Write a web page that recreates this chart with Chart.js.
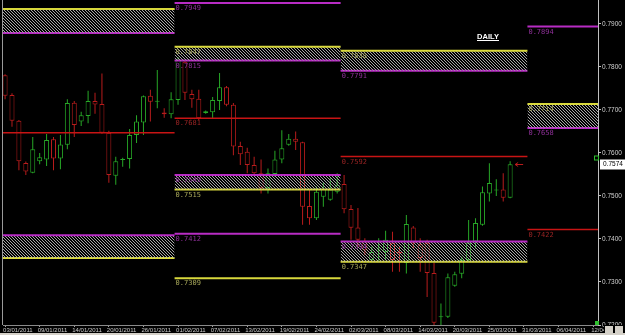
<!DOCTYPE html>
<html>
<head>
<meta charset="utf-8">
<script src="https://cdn.jsdelivr.net/npm/chart.js@4.4.0/dist/chart.umd.min.js"></script>
<style>
  html, body { margin: 0; padding: 0; background: #000; }
</style>
</head>
<body>
<canvas id="chart" width="625" height="335"></canvas>
<script>
// daily candles, bar 0 = 03/01/2011 (sunday bars included)
const opens = [0.7781, 0.7735, 0.7675, 0.7577, 0.7554, 0.7581, 0.7585, 0.7632, 0.7587, 0.7619,
  0.7717, 0.7673, 0.7686, 0.7721, 0.7714, 0.7647, 0.7547, 0.7584, 0.7586, 0.7642,
  0.7671, 0.7733, 0.7719, 0.7694, 0.7690, 0.7723, 0.7812, 0.7737, 0.7726, 0.7693,
  0.7695, 0.7721, 0.7753, 0.7712, 0.7616, 0.7603, 0.7572, 0.7553, 0.7518, 0.7551,
  0.7585, 0.7619, 0.7633, 0.7625, 0.7477, 0.7448, 0.7498, 0.7491, 0.7510, 0.7528,
  0.7470, 0.7427, 0.7395, 0.7351, 0.7373, 0.7370, 0.7391, 0.7370, 0.7344, 0.7427,
  0.7388, 0.7391, 0.7321, 0.7218, 0.7219, 0.7291, 0.7319, 0.7351, 0.7394, 0.7433,
  0.7506, 0.7513, 0.7515, 0.7496];
const highs = [0.7783, 0.7739, 0.7677, 0.7580, 0.7637, 0.7600, 0.7644, 0.7637, 0.7642, 0.7725,
  0.7721, 0.7696, 0.7745, 0.7740, 0.7785, 0.7652, 0.7591, 0.7589, 0.7656, 0.7688,
  0.7734, 0.7747, 0.7793, 0.7704, 0.7741, 0.7823, 0.7816, 0.7747, 0.7747, 0.7699,
  0.7730, 0.7786, 0.7756, 0.7716, 0.7626, 0.7612, 0.7591, 0.7585, 0.7564, 0.7605,
  0.7653, 0.7644, 0.7650, 0.7626, 0.7514, 0.7522, 0.7530, 0.7542, 0.7553, 0.7549,
  0.7479, 0.7472, 0.7402, 0.7382, 0.7402, 0.7419, 0.7417, 0.7382, 0.7456, 0.7430,
  0.7402, 0.7398, 0.7344, 0.7250, 0.7320, 0.7324, 0.7359, 0.7444, 0.7448, 0.7522,
  0.7576, 0.7539, 0.7553, 0.7581];
const lows = [0.7725, 0.7661, 0.7560, 0.7549, 0.7553, 0.7574, 0.7570, 0.7560, 0.7562, 0.7609,
  0.7637, 0.7663, 0.7669, 0.7691, 0.7645, 0.7531, 0.7526, 0.7568, 0.7564, 0.7623,
  0.7642, 0.7673, 0.7704, 0.7682, 0.7681, 0.7712, 0.7723, 0.7705, 0.7677, 0.7691,
  0.7681, 0.7700, 0.7709, 0.7595, 0.7572, 0.7553, 0.7549, 0.7506, 0.7506, 0.7545,
  0.7576, 0.7617, 0.7607, 0.7433, 0.7433, 0.7444, 0.7475, 0.7489, 0.7506, 0.7460,
  0.7398, 0.7381, 0.7363, 0.7347, 0.7347, 0.7351, 0.7324, 0.7324, 0.7320, 0.7378,
  0.7324, 0.7265, 0.7198, 0.7200, 0.7216, 0.7289, 0.7309, 0.7349, 0.7378, 0.7431,
  0.7487, 0.7500, 0.7487, 0.7495];
const closes = [0.7733, 0.7675, 0.7581, 0.7557, 0.7609, 0.7590, 0.7630, 0.7587, 0.7620, 0.7716,
  0.7665, 0.7688, 0.7721, 0.7713, 0.7647, 0.7549, 0.7581, 0.7586, 0.7642, 0.7673,
  0.7732, 0.7719, 0.7720, 0.7690, 0.7725, 0.7816, 0.7740, 0.7725, 0.7681, 0.7697,
  0.7723, 0.7753, 0.7712, 0.7615, 0.7597, 0.7572, 0.7553, 0.7518, 0.7553, 0.7585,
  0.7611, 0.7633, 0.7626, 0.7475, 0.7448, 0.7510, 0.7516, 0.7515, 0.7526, 0.7469,
  0.7426, 0.7398, 0.7374, 0.7370, 0.7374, 0.7398, 0.7351, 0.7367, 0.7435, 0.7390,
  0.7356, 0.7321, 0.7205, 0.7220, 0.7311, 0.7318, 0.7351, 0.7391, 0.7437, 0.7509,
  0.7530, 0.7514, 0.7496, 0.7574];

const dateLabels = ['03/01/2011', '09/01/2011', '14/01/2011', '20/01/2011', '26/01/2011', '01/02/2011',
  '07/02/2011', '13/02/2011', '19/02/2011', '24/02/2011', '02/03/2011', '08/03/2011', '14/03/2011',
  '20/03/2011', '25/03/2011', '31/03/2011', '06/04/2011', '12/04/2011'];
const dateBars = [0, 5, 10, 15, 20, 25, 30, 35, 40, 45, 50, 55, 60, 65, 70, 75, 80, 85];
const priceTicks = [0.72, 0.73, 0.74, 0.75, 0.76, 0.77, 0.78, 0.79];

// monthly levels: jan, feb, mar, apr (bar index bounds)
const periodStart = [-0.3, 24.5, 48.5, 75.5];
const periodEnd = [24.5, 48.5, 75.5, 85.7];
const levelPeriod = [0, 0, 0, 0, 0, 1, 1, 1, 1, 1, 1, 1, 1, 2, 2, 2, 2, 2, 3, 3, 3, 3];
const levelValue = [0.7935, 0.7879, 0.7647, 0.7409, 0.7356,
  0.7949, 0.7847, 0.7815, 0.7681, 0.7549, 0.7515, 0.7412, 0.7309,
  0.7838, 0.7791, 0.7592, 0.7394, 0.7347,
  0.7894, 0.7714, 0.7658, 0.7422];
const levelKind = ['y', 'm', 'r', 'm', 'y',
  'm', 'y', 'm', 'r', 'm', 'y', 'm', 'y',
  'y', 'm', 'r', 'm', 'y',
  'm', 'y', 'm', 'r'];
// hatched zones: [top level, bottom level]
const zones = [[0, 1], [3, 4], [6, 7], [9, 10], [13, 14], [16, 17], [19, 20]];

const UP = '#27a827', DOWN = '#b81c1c';
const lineColors = { y: '#d8d83c', m: '#b82cc4', r: '#c81414' };
const labelColors = { y: '#a8a85a', m: '#8e3098', r: '#9a2424' };

const canvas = document.getElementById('chart');
const ctx = canvas.getContext('2d');

const tile = document.createElement('canvas');
tile.width = 3; tile.height = 3;
const tg = tile.getContext('2d');
tg.fillStyle = '#a6a6a6';
for (let i = 0; i < 3; i++) tg.fillRect(i, i, 1, 1);
const hatch = ctx.createPattern(tile, 'repeat');

const candleColors = opens.map((o, i) => (closes[i] >= o ? UP : DOWN));

const datasets = [
  {
    label: 'body',
    data: opens.map((o, i) => ({ x: i, y: [o, closes[i]] })),
    backgroundColor: '#000',
    borderColor: candleColors,
    borderWidth: 1,
    borderSkipped: false,
    barThickness: 5,
    minBarLength: 1,
    inflateAmount: 0,
    grouped: false,
    order: 1,
  },
  {
    label: 'wick',
    data: lows.map((l, i) => ({ x: i, y: [l, highs[i]] })),
    backgroundColor: candleColors,
    borderWidth: 0,
    barThickness: 1,
    inflateAmount: 0,
    grouped: false,
    order: 2,
  },
];

levelValue.forEach((v, k) => {
  const p = levelPeriod[k];
  const zone = zones.find(z => z[0] === k);
  datasets.push({
    type: 'line',
    label: 'lvl' + k,
    data: [{ x: periodStart[p], y: v }, { x: periodEnd[p], y: v }],
    borderColor: lineColors[levelKind[k]],
    borderWidth: levelKind[k] === 'r' ? 1.5 : 2,
    pointRadius: 0,
    fill: zone ? { target: 2 + zone[1], above: hatch, below: hatch } : false,
    order: 0,
  });
});

const extras = {
  id: 'extras',
  afterDatasetsDraw(chart) {
    const { ctx, chartArea, scales: { x, y } } = chart;
    ctx.save();
    // level labels at start of each month segment
    ctx.font = '7px "DejaVu Sans Mono"';
    ctx.textBaseline = 'top';
    ctx.textAlign = 'left';
    levelValue.forEach((v, k) => {
      const p = levelPeriod[k];
      if (p === 0) return;
      ctx.fillStyle = labelColors[levelKind[k]];
      ctx.fillText(v.toFixed(4), x.getPixelForValue(periodStart[p]) + 1, y.getPixelForValue(v) + 2);
    });
    // left frame
    ctx.fillStyle = '#9a9a9a';
    ctx.fillRect(chartArea.left - 1, 0, 1, chartArea.bottom);
    // title
    ctx.font = 'bold 7.5px "Liberation Sans"';
    ctx.fillStyle = '#fff';
    ctx.textAlign = 'center';
    ctx.textBaseline = 'alphabetic';
    ctx.fillText('DAILY', 488, 39);
    ctx.fillRect(477, 40, 22, 1);
    // last price arrow and box
    const last = closes[closes.length - 1];
    const py = Math.round(y.getPixelForValue(last)) + 0.5;
    const ax = x.getPixelForValue(closes.length - 1) + 5;
    ctx.strokeStyle = DOWN;
    ctx.lineWidth = 1;
    ctx.beginPath();
    ctx.moveTo(ax, py); ctx.lineTo(ax + 8, py);
    ctx.moveTo(ax + 3, py - 2); ctx.lineTo(ax, py); ctx.lineTo(ax + 3, py + 2);
    ctx.stroke();
    ctx.fillStyle = '#fff';
    ctx.fillRect(chartArea.right + 2, py - 5, 26, 10);
    ctx.fillStyle = '#000';
    ctx.font = '6.5px "Liberation Sans"';
    ctx.textAlign = 'left';
    ctx.textBaseline = 'middle';
    ctx.fillText(last.toFixed(4), chartArea.right + 5, py);
    ctx.strokeStyle = '#2fc02f';
    ctx.strokeRect(chartArea.right - 3.5, py - 8.5, 4, 4);
    ctx.fillStyle = '#2fc02f';
    ctx.fillRect(chartArea.right - 3, chartArea.bottom - 4, 4, 4);
    // bottom scroll strip and buttons
    ctx.fillStyle = '#d4d0c8';
    ctx.fillRect(0, 333, 625, 2);
    ctx.fillStyle = '#000';
    ctx.fillRect(chartArea.right + 6, 325, 27, 8);
    ctx.fillStyle = '#d4d0c8';
    ctx.fillRect(chartArea.right + 7, 326, 8, 7);
    ctx.fillRect(chartArea.right + 17, 326, 8, 7);
    ctx.restore();
  }
};

new Chart(ctx, {
  type: 'bar',
  data: { datasets },
  options: {
    responsive: false,
    animation: false,
    devicePixelRatio: 1,
    layout: { padding: { left: 3, right: 0, top: 0, bottom: 0 } },
    plugins: { legend: { display: false }, tooltip: { enabled: false } },
    scales: {
      x: {
        type: 'linear',
        min: -0.3,
        max: 85.7,
        offset: false,
        afterBuildTicks(s) { s.ticks = dateBars.map(v => ({ value: v })); },
        afterFit(s) { s.height = 10; s.paddingLeft = 0; s.paddingRight = 0; },
        ticks: {
          color: '#c8c8c8',
          font: { size: 6, family: 'Liberation Sans' },
          align: 'start',
          labelOffset: -2,
          padding: 0,
          maxRotation: 0,
          autoSkip: false,
          callback: (v, i) => dateLabels[i],
        },
        grid: { drawOnChartArea: false, offset: false, color: '#a0a0a0', tickLength: 2 },
        border: { color: '#8a8a8a' },
      },
      y: {
        position: 'right',
        min: 0.72,
        max: 0.79558,
        afterBuildTicks(s) { s.ticks = priceTicks.map(v => ({ value: v })); },
        afterFit(s) { s.width = 27; s.paddingTop = 0; s.paddingBottom = 0; },
        ticks: {
          color: '#d0d0d0',
          font: { size: 6.5, family: 'Liberation Sans' },
          padding: 1,
          callback: v => v.toFixed(4),
        },
        grid: { drawOnChartArea: false, color: '#c0c0c0', tickLength: 3 },
        border: { color: '#c0c0c0' },
      },
    },
  },
  plugins: [extras],
});
</script>
</body>
</html>
